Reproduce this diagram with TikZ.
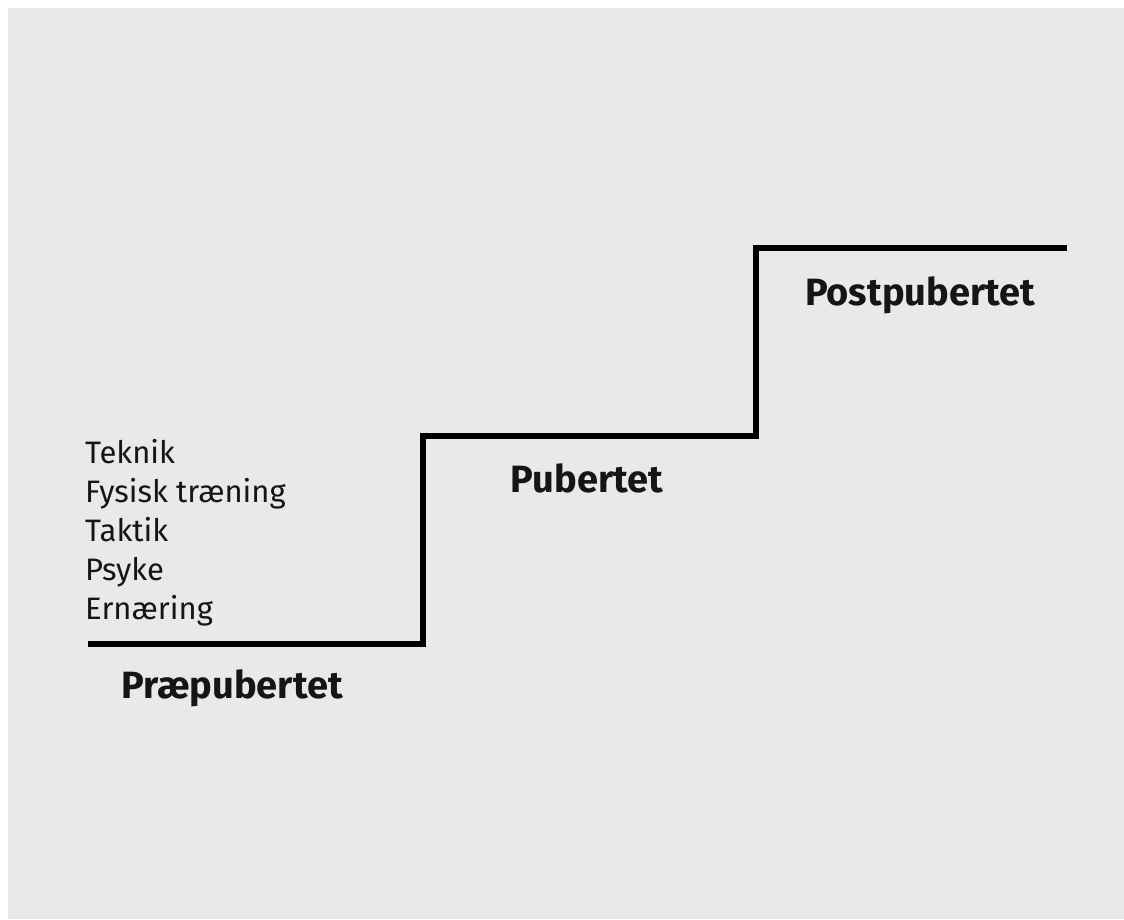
\documentclass[tikz,border=0pt]{standalone}
\usepackage{fontspec}
\setmainfont{Fira Sans}
\definecolor{panelgray}{HTML}{E9E9E9}
\definecolor{inkblack}{HTML}{151515}
\tikzset{
	phase/.style={anchor=base, inner sep=0pt, text=inkblack, font=\fontsize{38}{42}\selectfont\bfseries},
	aspect/.style={anchor=base west, inner sep=0pt, text=inkblack, font=\fontsize{31}{36}\selectfont},
	stair/.style={line width=5.5pt, draw=black, line join=miter}
}
\begin{document}
\begin{tikzpicture}[x=1pt, y=-1pt]
		
		\useasboundingbox (0,0) rectangle (1124,919);
		\fill[panelgray] (8,8) rectangle (1124,919);
		
		\coordinate (s0) at (88,644);
		\coordinate (s1) at (423,644);
		\coordinate (s2) at (423,436);
		\coordinate (s3) at (756,436);
		\coordinate (s4) at (756,248);
		\coordinate (s5) at (1067,248);
		
		\draw[stair] (s0) -- (s1) -- (s2) -- (s3) -- (s4) -- (s5);
		
		\foreach \name/\word [count=\i from 0] in {teknik/Teknik, fysisk/Fysisk træning, taktik/Taktik, psyke/Psyke, ernaering/Ernæring}
			\node[aspect] (\name) at (85,463+39*\i) {\word};
		
		\node[phase] (prae) at (232,698) {Præpubertet};
		\node[phase] (pub) at (587,492) {Pubertet};
		\node[phase] (post) at (920,305) {Postpubertet};
	
	\end{tikzpicture}
\end{document}
